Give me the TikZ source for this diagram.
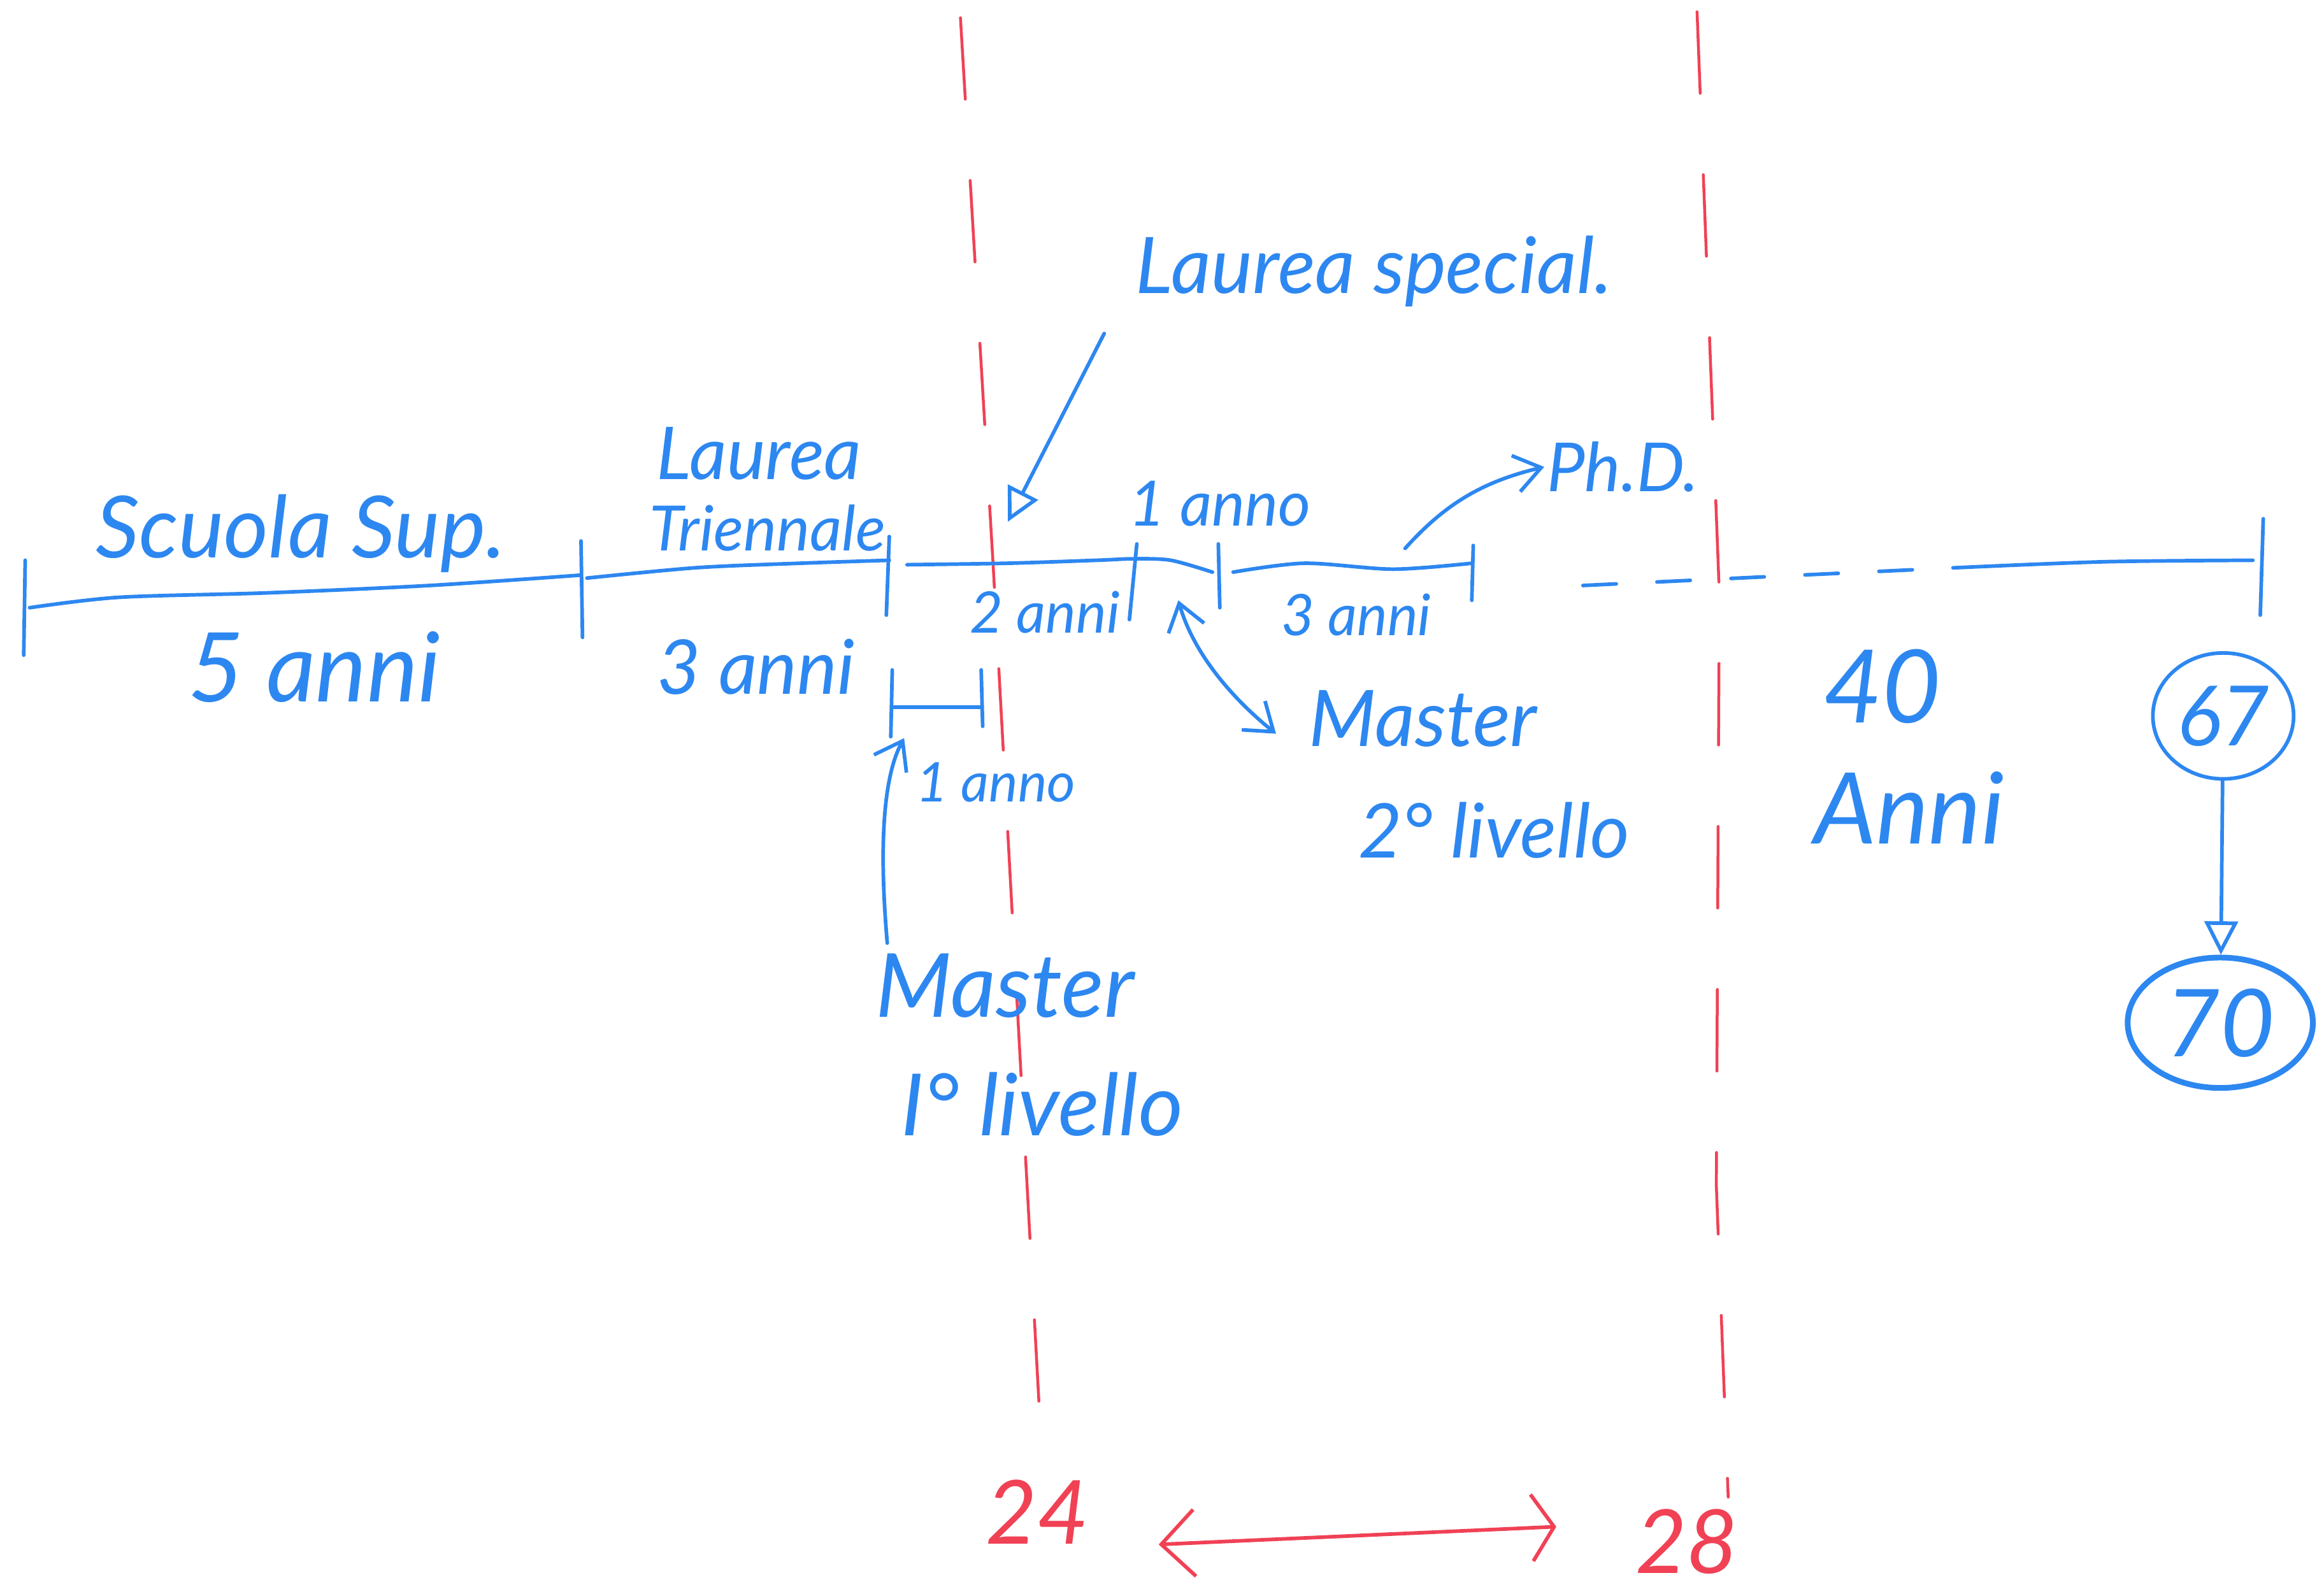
\documentclass[tikz,border=0pt]{standalone}
\usepackage{fontspec}
\setmainfont{Lato}
\usetikzlibrary{arrows.meta,shapes.geometric}
\definecolor{penblue}{RGB}{45,135,240}
\definecolor{penred}{RGB}{240,65,85}
\begin{document}
\begin{tikzpicture}[x=0.02cm,y=-0.02cm,
  pen/.style={draw=penblue, line width=1.4pt, line cap=round, line join=round},
  redpen/.style={draw=penred, line width=1.1pt, line cap=round},
  reddash/.style={redpen, dash pattern=on 1.1cm off 1.1cm},
  hw/.style={text=penblue, inner sep=1pt, font=\fontsize{#1}{#1}\selectfont\itshape},
  hwred/.style={text=penred, inner sep=1pt, font=\fontsize{#1}{#1}\selectfont\itshape},
  barb/.style={-{Straight Barb[length=0.35cm,width=0.5cm]}},
  opentri/.style={-{Triangle[open,length=0.45cm,width=0.45cm]}}
]
\useasboundingbox (0,0) rectangle (1568,1075);

% red vertical dashed lines
\draw[reddash] (648,12) -- (670,380) -- (702,965);
\draw[reddash] (1145,8) -- (1160,400) -- (1158,800) -- (1166,1010);

% timeline points
\coordinate (a0) at (17,410);
\coordinate (a1) at (393,388);
\coordinate (a2) at (601,378);
\coordinate (a3) at (765,377);
\coordinate (a4) at (822,385);
\coordinate (a5) at (993,380);
\coordinate (a6) at (1068,395);
\coordinate (a7) at (1320,383);
\coordinate (a8) at (1527,378);
\coordinate (spec) at (680,352);
\coordinate (specstart) at (745,225);
\coordinate (m2tip) at (795,405);
\coordinate (phdstart) at (948,370);
\coordinate (m1tip) at (610,498);

% timeline
\draw[pen] plot[smooth] coordinates {(20,410) (80,403) (180,400) (290,395) (392,388)};
\draw[pen] plot[smooth] coordinates {(396,390) (470,383) (540,380) (600,378)};
\draw[pen] plot[smooth] coordinates {(612,381) (680,380) (740,378) (765,377) (790,378) (818,386)};
\draw[pen] plot[smooth] coordinates {(832,386) (880,380) (940,384) (993,380)};
\draw[pen, dash pattern=on 0.45cm off 0.55cm] (a6) -- (a7);
\draw[pen] plot[smooth] coordinates {(1320,383) (1420,379) (1520,378)};

% ticks
\draw[pen] (17,378) -- (16,442);
\draw[pen] (392,365) -- (393,430);
\draw[pen] (600,362) -- (598,415);
\draw[pen] (767,367) -- (762,418);
\draw[pen] (822,367) -- (823,410);
\draw[pen] (994,368) -- (993,405);
\draw[pen] (1527,350) -- (1525,415);

% one-year segment
\coordinate (s0) at (602,477);
\coordinate (s1) at (662,477);
\draw[pen] (602,452) -- (601,497);
\draw[pen] (662,452) -- (663,490);
\draw[pen] (s0) -- (s1);

% labels
\node[hw=33] (scuola) at (203,360) {Scuola Sup.};
\node[hw=37] (cinque) at (212,450) {5 anni};
\node[hw=28] (laurea) at (512,306) {Laurea};
\node[hw=24] (trien) at (518,356) {Triennale};
\node[hw=29] (tre) at (510,450) {3 anni};
\node[hw=22] (due) at (705,413) {2 anni};
\node[hw=24] (uno) at (823,340) {1 anno};
\node[hw=22] (treb) at (915,415) {3 anni};
\node[hw=26] (phd) at (1095,315) {Ph.D.};
\node[hw=30] (lspec) at (927,183) {Laurea special.};
\node[hw=21] (unob) at (672,528) {1 anno};
\node[hw=34] (m1) at (678,665) {Master};
\node[hw=33] (m1b) at (703,745) {I° livello};
\node[hw=30] (m2) at (960,485) {Master};
\node[hw=29] (m2b) at (1008,560) {2° livello};
\node[hw=39] (quaranta) at (1270,463) {40};
\node[hw=38] (anni) at (1288,545) {Anni};

\node[hw=32, draw=penblue, line width=1.4pt, ellipse, minimum width=1.9cm, minimum height=1.7cm] (c67) at (1500,483) {67};
\node[hw=36, draw=penblue, line width=2.2pt, ellipse, minimum width=2.5cm, minimum height=1.76cm] (c70) at (1498,690) {70};

\node[hwred=34] (n24) at (700,1020) {24};
\node[hwred=34] (n28) at (1138,1040) {28};

% connectors
\draw[pen, opentri] (specstart) -- (spec);
\draw[pen, barb] (phdstart) .. controls (975,340) and (1000,325) .. (phd.west);
\draw[pen, barb] (m1.north west) ++(10,-5) coordinate (m1A) (m1A) .. controls (592,560) and (598,520) .. (m1tip);
\draw[pen, {Straight Barb[length=0.35cm,width=0.5cm]}-{Straight Barb[length=0.35cm,width=0.5cm]}] (m2.west) ++(-20,10) coordinate (m2A) (m2A) .. controls (830,470) and (805,440) .. (m2tip);
\draw[pen, opentri] (c67) -- (c70);
\draw[redpen, line width=1.4pt, {Straight Barb[length=0.45cm,width=0.9cm]}-{Straight Barb[length=0.3cm,width=0.9cm]}] (n24.east) ++(45,22) coordinate (rA) (rA) -- (1050,1030);
\end{tikzpicture}
\end{document}
